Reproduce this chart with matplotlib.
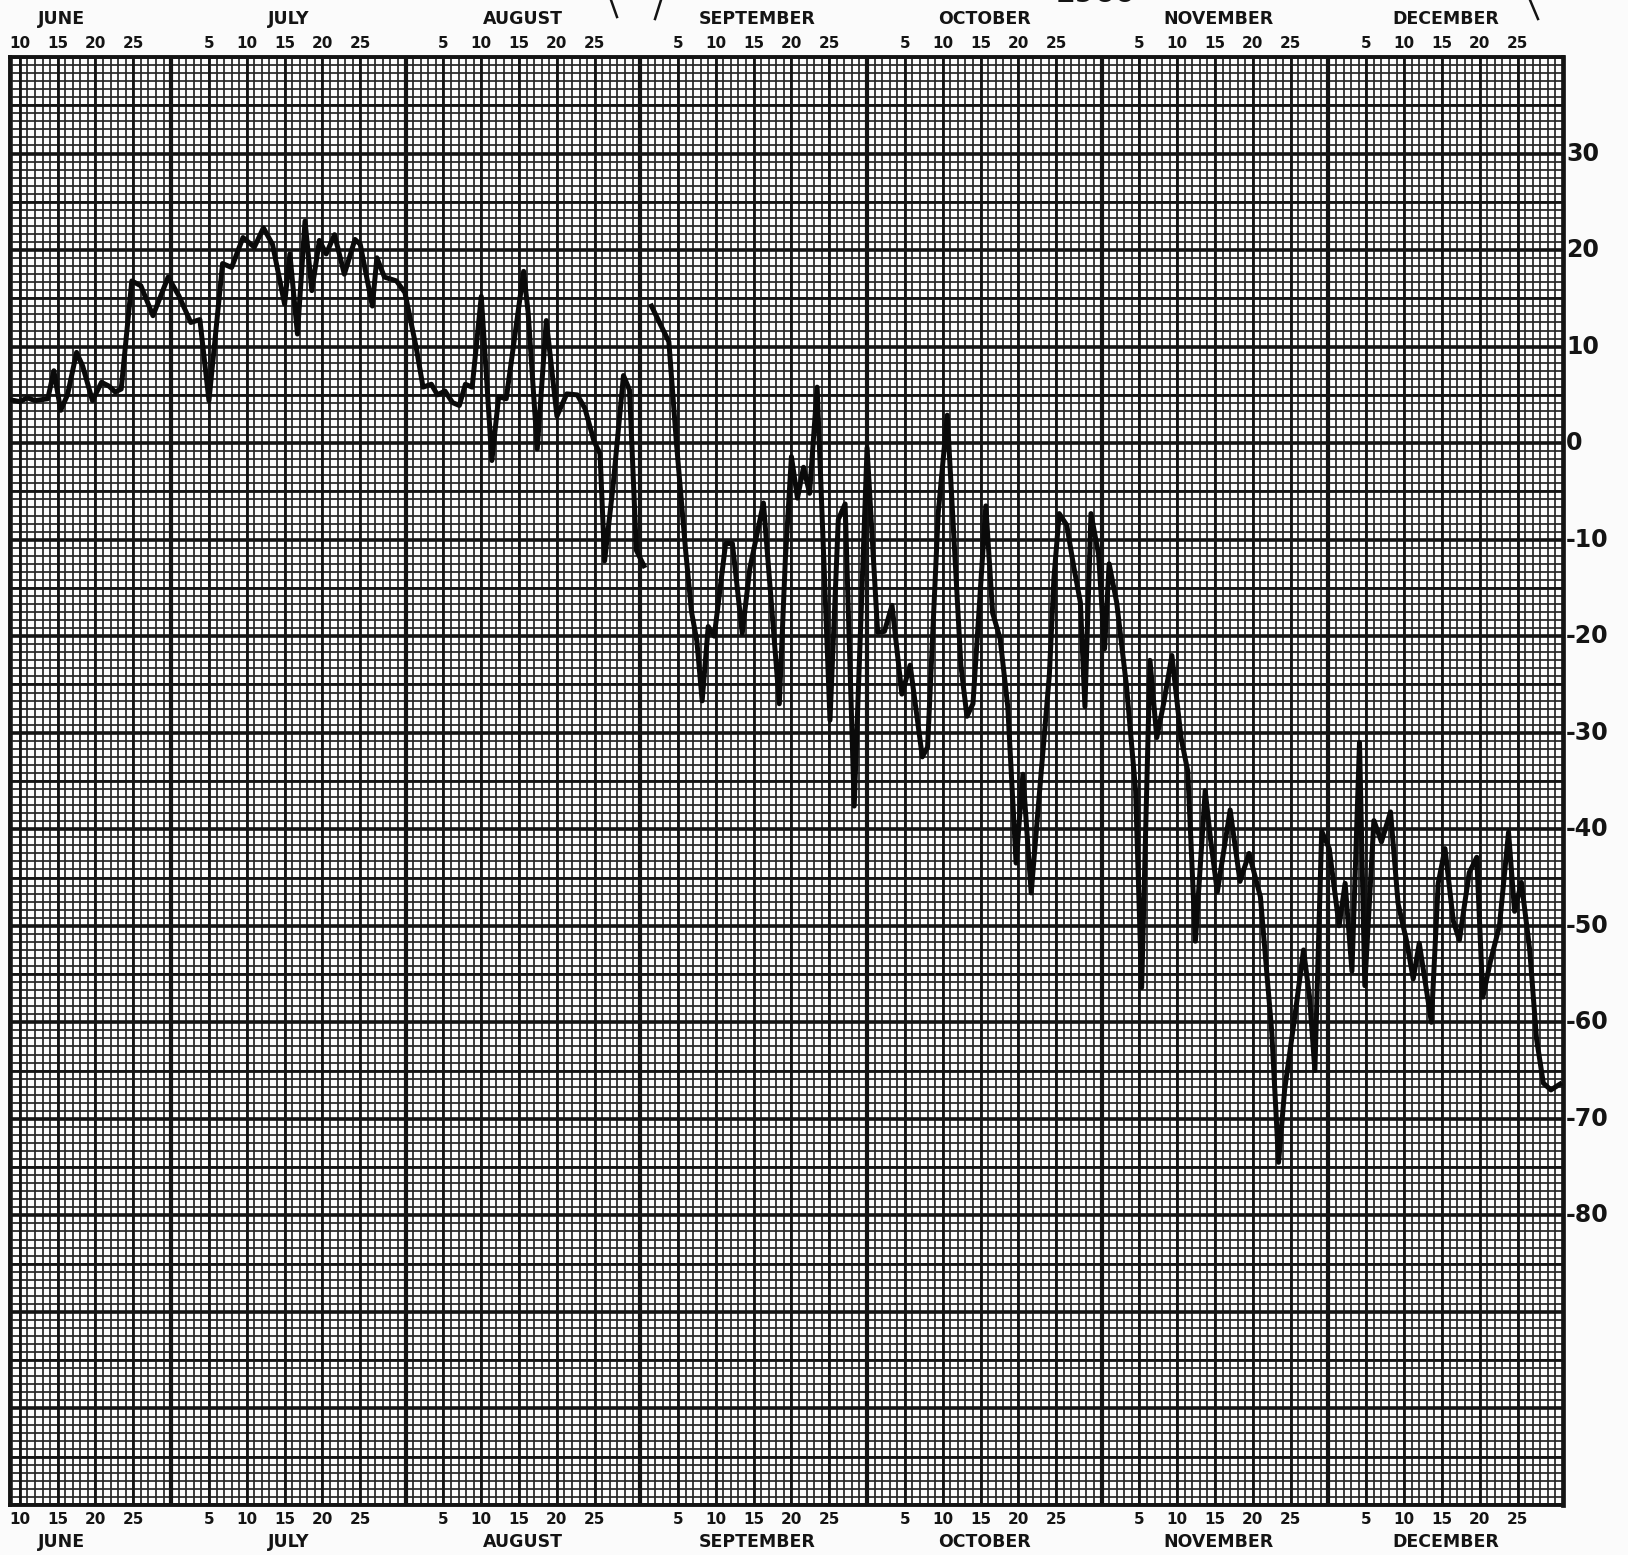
import numpy as np
import matplotlib.pyplot as plt
import matplotlib.transforms as mtransforms

# day numbers counted from May 31 (June 1 = 1, July 1 = 31, ...)
month_names = ["JUNE", "JULY", "AUGUST", "SEPTEMBER", "OCTOBER", "NOVEMBER", "DECEMBER"]
month_start = [0, 30, 61, 92, 122, 153, 183]
year_end = 214
day_ticks = [5, 10, 15, 20, 25]
june_ticks = [10, 15, 20, 25]
y_labels = [30, 20, 10, 0, -10, -20, -30, -40, -50, -60, -70, -80]
year_text = "1960"

# June 8 - Aug 31 trace
day_a = [8.7, 10, 11, 12, 13.7, 14.5, 15.4, 16.3, 17.5, 18.3,
         19.6, 20.8, 21.8, 22.6, 23.4, 24.8, 26.0, 27.6, 29.6, 31.0,
         32.6, 33.8, 35.0, 36.8, 38.0, 39.5, 41.0, 42.2, 43.4, 45.0,
         45.7, 46.7, 47.7, 48.6, 49.6, 50.5, 51.6, 52.9, 54.3, 55.0,
         56.6, 57.2, 58.2, 59.8, 60.9, 62.4, 63.3, 64.4, 65.2, 66.2,
         67.2, 68.1, 68.9, 69.8, 71.0, 72.4, 73.3, 74.3, 76.6, 77.2,
         78.4, 79.6, 81.0, 82.3, 83.7, 84.7, 85.9, 86.7, 87.3, 88.4,
         89.8, 90.6, 91.5, 92.5]
val_a = [4.5, 4.3, 4.7, 4.4, 4.6, 7.5, 3.4, 5.0, 9.4, 8.0,
         4.4, 6.3, 5.9, 5.3, 5.6, 16.8, 16.3, 13.2, 17.2, 15.3,
         12.5, 12.8, 4.4, 18.6, 18.2, 21.3, 20.3, 22.3, 20.6, 14.4,
         19.6, 11.3, 23.0, 15.8, 21.0, 19.6, 21.6, 17.5, 21.1, 20.6,
         14.2, 19.2, 17.2, 16.8, 15.6, 9.9, 5.8, 6.1, 5.0, 5.4,
         4.2, 3.9, 6.1, 5.8, 15.2, -1.8, 4.8, 4.6, 17.8, 13.5,
         -0.6, 12.7, 2.8, 5.1, 5.0, 3.6, 0.2, -1.1, -12.2, -4.6,
         7.0, 5.5, -11.1, -12.7]

# Sept 1 - Dec 31 trace
day_b = [93.5, 95.8, 96.8, 98.0, 98.8, 99.5, 100.2, 101.0, 101.8, 103.3,
         104.2, 105.5, 106.5, 108.3, 110.4, 111.2, 112.0, 112.8, 113.6, 114.4,
         115.4, 117.1, 118.2, 119.1, 120.3, 122.0, 123.4, 124.3, 125.3, 126.6,
         127.7, 129.3, 130.0, 131.4, 132.6, 134.4, 135.2, 136.0, 137.7, 138.6,
         139.6, 140.6, 141.7, 142.6, 143.7, 144.6, 146.1, 146.7, 147.4, 148.4,
         149.3, 150.2, 150.8, 151.6, 152.6, 153.4, 154.0, 155.0, 156.3, 157.5,
         158.3, 159.4, 160.3, 161.2, 162.3, 163.5, 164.4, 165.4, 166.7, 167.4,
         168.3, 169.2, 170.0, 171.3, 172.5, 174.0, 175.5, 176.4, 177.2, 178.7,
         179.7, 180.5, 181.2, 182.1, 183.1, 184.4, 185.2, 186.1, 187.1, 187.8,
         189.0, 190.0, 191.2, 192.2, 193.3, 194.2, 195.0, 196.6, 197.5, 198.4,
         199.5, 200.3, 201.6, 202.6, 203.4, 204.4, 205.6, 206.8, 207.6, 208.5,
         209.6, 210.5, 211.4, 212.4, 213.6]
val_b = [14.2, 10.5, 0.0, -11.0, -17.5, -20.5, -26.7, -19.0, -20.0, -10.4,
         -10.4, -19.7, -13.0, -6.2, -27.0, -12.0, -1.4, -5.7, -2.5, -5.2,
         5.8, -28.7, -7.9, -6.3, -37.6, -0.5, -19.6, -19.5, -16.8, -26.0,
         -23.0, -32.5, -31.5, -7.3, 2.9, -23.0, -28.3, -27.0, -6.5, -17.6,
         -20.3, -27.3, -43.5, -34.3, -46.6, -38.0, -24.0, -14.0, -7.3, -8.5,
         -12.7, -16.5, -27.3, -7.3, -11.5, -21.3, -12.5, -16.5, -25.2, -36.0,
         -56.4, -22.5, -30.5, -27.0, -22.0, -30.5, -34.0, -51.6, -36.0, -41.0,
         -46.5, -42.0, -38.0, -45.4, -42.5, -47.0, -61.0, -74.5, -67.0, -58.5,
         -52.5, -57.4, -65.0, -40.2, -42.0, -50.0, -45.6, -54.7, -31.0, -56.2,
         -39.1, -41.3, -38.2, -47.7, -51.5, -55.5, -51.8, -60.0, -45.6, -42.0,
         -49.5, -51.5, -44.5, -42.9, -57.4, -53.7, -50.0, -40.3, -48.5, -45.5,
         -52.5, -61.7, -66.3, -67.0, -66.4]

W, H = 1628, 1555
fig = plt.figure(figsize=(W / 100, H / 100), dpi=100, facecolor="#fbfbfb")
ax = fig.add_axes([10 / W, 1 - 1505 / H, 1553 / W, 1448 / H])
ax.set_facecolor("#fdfdfd")
ax.set_xlim(8.7, year_end)
ax.set_ylim(-110, 40)
ax.set_xticks([])
ax.set_yticks([])

ink = "#141414"

# graph paper: minor grid
for d in range(9, year_end):
    ax.axvline(d, color="#262626", lw=1.25, zorder=1)
for v in np.arange(-110, 40.01, 5 / 6):
    ax.axhline(v, color="#262626", lw=1.25, zorder=1)
# 5-day and 5/10-unit lines
for m0 in month_start:
    for d in day_ticks:
        if m0 + d > 8.7:
            ax.axvline(m0 + d, color=ink, lw=2.0, zorder=2)
for v in range(-110, 41, 5):
    ax.axhline(v, color=ink, lw=2.6 if v % 10 == 0 else 2.0, zorder=2)
for m0 in month_start[1:]:
    ax.axvline(m0, color=ink, lw=3.0, zorder=2)

for s in ax.spines.values():
    s.set_linewidth(2.8)
    s.set_color(ink)
ax.spines["right"].set_linewidth(3.4)

# temperature trace
ax.plot(day_a, val_a, color="#0a0a0a", lw=3.6, zorder=5)
ax.plot(day_b, val_b, color="#0a0a0a", lw=3.6, zorder=5)

# month / day labels, top and bottom
tx = mtransforms.blended_transform_factory(ax.transData, fig.transFigure)
lab = dict(fontsize=11, fontweight="bold", color=ink, ha="center", va="center",
           transform=tx)
mon = dict(fontsize=12.5, fontweight="bold", color=ink, ha="center", va="center",
           transform=tx)
for i, (name, m0) in enumerate(zip(month_names, month_start)):
    ticks = june_ticks if i == 0 else day_ticks
    for d in ticks:
        ax.text(m0 + d, 1 - 44 / H, str(d), **lab)
        ax.text(m0 + d, 1 - 1519 / H, str(d), **lab)
    ax.text(m0 + 15.5, 1 - 19 / H, name, **mon)
    ax.text(m0 + 15.5, 1 - 1542 / H, name, **mon)

# right-hand scale
ty = mtransforms.blended_transform_factory(fig.transFigure, ax.transData)
for v in y_labels:
    ax.text(1566 / W, v, str(v), fontsize=17, fontweight="bold", color=ink,
            ha="left", va="center", transform=ty)

# cut-off heading above the chart
for (x0, y0, x1, y1) in [(611, 0, 617, 17), (661, 0, 655, 19), (1530, 0, 1538, 19)]:
    fig.add_artist(plt.Line2D([x0 / W, x1 / W], [1 - y0 / H, 1 - y1 / H],
                              color=ink, lw=1.8, transform=fig.transFigure))
fig.text(1095 / W, 1 - 2 / H, year_text, fontsize=21, fontweight="bold",
         color=ink, ha="center", va="baseline")

fig.savefig("out.png", dpi=100, facecolor=fig.get_facecolor())
